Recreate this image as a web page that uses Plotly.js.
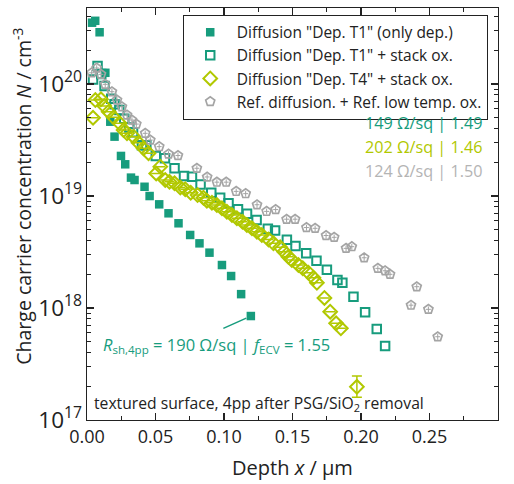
<!DOCTYPE html>
<html>
<head>
<meta charset="utf-8">
<script src="https://cdn.plot.ly/plotly-3.0.1.min.js"></script>
<style>html,body{margin:0;padding:0;background:#fff;}#chart{width:514px;height:484px;}</style>
</head>
<body>
<div id="chart"></div>
<script>
// Diffusion "Dep. T1" (only dep.)
const depX = [0.0037,0.0060,0.0092,0.0134,0.0170,0.0201,0.0248,0.0279,0.0321,0.0347,0.0420,0.0457,0.0527,0.0595,0.0668,0.0753,0.0821,0.0894,0.0985,0.1052,0.1125,0.1196];
const depY = [3.53e20,3.67e20,2.90e20,1.26e20,4.61e19,3.39e19,2.28e19,1.92e19,1.46e19,1.39e19,1.21e19,1.00e19,8.43e18,7.01e18,5.71e18,4.49e18,3.78e18,3.12e18,2.42e18,1.93e18,1.33e18,8.48e17];

// Diffusion "Dep. T1" + stack ox.
const t1X = [0.0044,0.0077,0.0104,0.0128,0.0177,0.0201,0.0236,0.0272,0.0309,0.0336,0.0401,0.0433,0.0502,0.0569,0.0639,0.0708,0.0766,0.0829,0.0907,0.0972,0.1033,0.1102,0.1168,0.1238,0.1320,0.1373,0.1459,0.1522,0.1600,0.1675,0.1751,0.1828,0.1864,0.1945,0.2030,0.2115,0.2176];
const t1Y = [1.10e20,1.45e20,1.23e20,9.6e19,7.39e19,6.59e19,5.86e19,4.90e19,4.10e19,3.71e19,2.84e19,2.84e19,2.28e19,2.17e19,1.77e19,1.51e19,1.49e19,1.27e19,1.07e19,9.64e18,8.61e18,7.62e18,6.96e18,6.11e18,5.11e18,4.93e18,4.07e18,3.58e18,3.08e18,2.64e18,2.20e18,1.78e18,1.68e18,1.26e18,9.16e17,6.49e17,4.58e17];

// Diffusion "Dep. T4" + stack ox.
const t4X = [0.0044,0.0061,0.0102,0.0126,0.0158,0.0194,0.0238,0.0267,0.0292,0.0340,0.0376,0.0413,0.0449,0.0505,0.0535,0.0571,0.0602,0.0639,0.0681,0.0717,0.0757,0.0807,0.0850,0.0875,0.0912,0.0948,0.0985,0.1021,0.1058,0.1094,0.1135,0.1167,0.1204,0.1240,0.1276,0.1325,0.1361,0.1410,0.1439,0.1470,0.1495,0.1543,0.1575,0.1616,0.1653,0.1678,0.1733,0.1775,0.1818,0.1853,0.1970];
const t4Y = [5.00e19,7.20e19,7.30e19,6.36e19,5.66e19,5.04e19,4.46e19,3.88e19,3.63e19,3.39e19,2.99e19,2.67e19,2.41e19,1.59e19,1.83e19,1.39e19,1.34e19,1.30e19,1.19e19,1.15e19,1.07e19,1.02e19,9.66e18,9.08e18,8.71e18,8.31e18,7.77e18,7.24e18,6.77e18,6.32e18,5.90e18,5.51e18,5.15e18,4.80e18,4.49e18,4.10e18,3.78e18,3.48e18,3.18e18,2.87e18,2.68e18,2.42e18,2.26e18,2.07e18,1.86e18,1.68e18,1.23e18,9.27e17,7.30e17,6.59e17,1.98e17];
// error bar only on the last (isolated) point
const t4ErrPlus  = [null,null,null,null,null,null,null,null,null,null,null,null,null,null,null,null,null,null,null,null,null,null,null,null,null,null,null,null,null,null,null,null,null,null,null,null,null,null,null,null,null,null,null,null,null,null,null,null,null,null,0.49e17];
const t4ErrMinus = [null,null,null,null,null,null,null,null,null,null,null,null,null,null,null,null,null,null,null,null,null,null,null,null,null,null,null,null,null,null,null,null,null,null,null,null,null,null,null,null,null,null,null,null,null,null,null,null,null,null,0.38e17];

// Ref. diffusion. + Ref. low temp. ox.
const refX = [0.0034,0.0071,0.0102,0.0133,0.0182,0.0219,0.0255,0.0292,0.0328,0.0360,0.0425,0.0462,0.0527,0.0595,0.0664,0.0802,0.0877,0.0948,0.1016,0.1089,0.1158,0.1241,0.1311,0.1377,0.1457,0.1519,0.1602,0.1665,0.1745,0.1804,0.1891,0.1933,0.2023,0.2123,0.2176,0.2212,0.2365,0.2407,0.2492,0.2560];
const refY = [1.26e20,1.39e20,1.22e20,9.94e19,8.54e19,7.20e19,6.27e19,5.29e19,4.77e19,4.39e19,3.63e19,3.16e19,2.76e19,2.37e19,2.30e19,1.77e19,1.48e19,1.33e19,1.33e19,1.10e19,1.05e19,8.36e18,7.29e18,7.57e18,6.21e18,6.21e18,5.23e18,5.15e18,4.44e18,4.28e18,3.41e18,3.53e18,2.81e18,2.26e18,2.15e18,2.00e18,1.06e18,1.55e18,9.73e17,5.54e17];
const refErrYPercent = 6;      // relative error of the reference profile
const refErrX = 0.0018;        // depth uncertainty, µm

const legendNames = ['Diffusion "Dep. T1" (only dep.)','Diffusion "Dep. T1" + stack ox.','Diffusion "Dep. T4" + stack ox.','Ref. diffusion. + Ref. low temp. ox.'];
const sheetLabels = ['149 Ω/sq | 1.49','202 Ω/sq | 1.46','124 Ω/sq | 1.50'];

const TEAL = '#179C7D', YG = '#B1C800', GRAY = '#A4A4A4';
const FONT = 'Open Sans, Noto Sans, sans-serif';

const traces = [
  {x: depX, y: depY, type:'scatter', mode:'markers', name: legendNames[0],
   marker:{symbol:'square', size:8.5, color:TEAL}},
  {x: t1X, y: t1Y, type:'scatter', mode:'markers', name: legendNames[1],
   marker:{symbol:'square-open', size:8.5, color:TEAL, line:{width:2, color:TEAL}}},
  {x: t4X, y: t4Y, type:'scatter', mode:'markers', name: legendNames[2],
   marker:{symbol:'diamond-open', size:10.5, color:YG, line:{width:2, color:YG}},
   error_y:{type:'data', symmetric:false, array:t4ErrPlus, arrayminus:t4ErrMinus, color:YG, thickness:1.5, width:5}},
  {x: refX, y: refY, type:'scatter', mode:'markers', name: legendNames[3],
   marker:{symbol:'pentagon-open', size:9.5, color:GRAY, line:{width:1.7, color:GRAY}},
   error_y:{type:'percent', value:refErrYPercent, color:GRAY, thickness:1, width:0},
   error_x:{type:'constant', value:refErrX, color:GRAY, thickness:1, width:0}}
];

const axisCommon = {showline:true, linecolor:'#222', linewidth:1.3, mirror:'allticks', ticks:'inside',
  ticklen:7, tickwidth:1.2, tickcolor:'#222', showgrid:false, zeroline:false,
  tickfont:{family:FONT, size:18, color:'#222'}};

const lastI = depX.length-1;
const layout = {
  width:514, height:484,
  margin:{l:87, r:16, t:8, b:64},
  paper_bgcolor:'#fff', plot_bgcolor:'#fff',
  font:{family:FONT, color:'#222'},
  showlegend:true,
  legend:{x:0.975, xanchor:'right', y:0.984, yanchor:'top', bordercolor:'#222', borderwidth:1,
    bgcolor:'#fff', font:{family:FONT, size:15.5, color:'#222'}, tracegroupgap:0, itemwidth:43},
  xaxis: Object.assign({}, axisCommon, {range:[0,0.3], dtick:0.05, tick0:0, tickformat:'.2f',
    minor:{ticks:'inside', ticklen:4, dtick:0.025, tickcolor:'#222', tickwidth:1},
    title:{text:'Depth <i>x</i> / µm', font:{family:FONT, size:20, color:'#222'}, standoff:14}}),
  yaxis: Object.assign({}, axisCommon, {type:'log', range:[17,20.679], dtick:1, exponentformat:'power',
    minor:{ticks:'inside', ticklen:4, tickcolor:'#222', tickwidth:1}}),
  annotations:[
    {xref:'paper', yref:'paper', x:-0.156, y:0.544, xanchor:'center', yanchor:'middle', showarrow:false, textangle:-90,
     text:'Charge carrier concentration <i>N</i> / cm<sup>-3</sup>', font:{family:FONT, size:19.5, color:'#222'}},
    {xref:'paper', yref:'paper', x:0.968, y:0.721, xanchor:'right', yanchor:'middle', showarrow:false,
     text:sheetLabels[0], font:{family:FONT, size:16.2, color:TEAL}},
    {xref:'paper', yref:'paper', x:0.968, y:0.663, xanchor:'right', yanchor:'middle', showarrow:false,
     text:sheetLabels[1], font:{family:FONT, size:16.2, color:YG}},
    {xref:'paper', yref:'paper', x:0.968, y:0.604, xanchor:'right', yanchor:'middle', showarrow:false,
     text:sheetLabels[2], font:{family:FONT, size:16.2, color:'#B4B4B4'}},
    {xref:'paper', yref:'paper', x:0.316, y:0.182, xanchor:'center', yanchor:'middle', showarrow:false,
     text:'<i>R</i><sub>sh,4pp</sub> = 190 Ω/sq | <i>f</i><sub>ECV</sub> = 1.55', font:{family:FONT, size:16.5, color:TEAL}},
    {xref:'x', yref:'y', x:depX[lastI], y:Math.log10(depY[lastI]), text:'', showarrow:true, arrowhead:0,
     arrowwidth:1.5, arrowcolor:TEAL, ax:-29, ay:13, standoff:5},
    {xref:'paper', yref:'paper', x:0.011, y:0.039, xanchor:'left', yanchor:'middle', showarrow:false,
     text:'textured surface, 4pp after PSG/SiO<sub>2</sub> removal', font:{family:FONT, size:15.7, color:'#222'}}
  ]
};

Plotly.newPlot('chart', traces, layout, {staticPlot:true, displayModeBar:false});
</script>
</body>
</html>
